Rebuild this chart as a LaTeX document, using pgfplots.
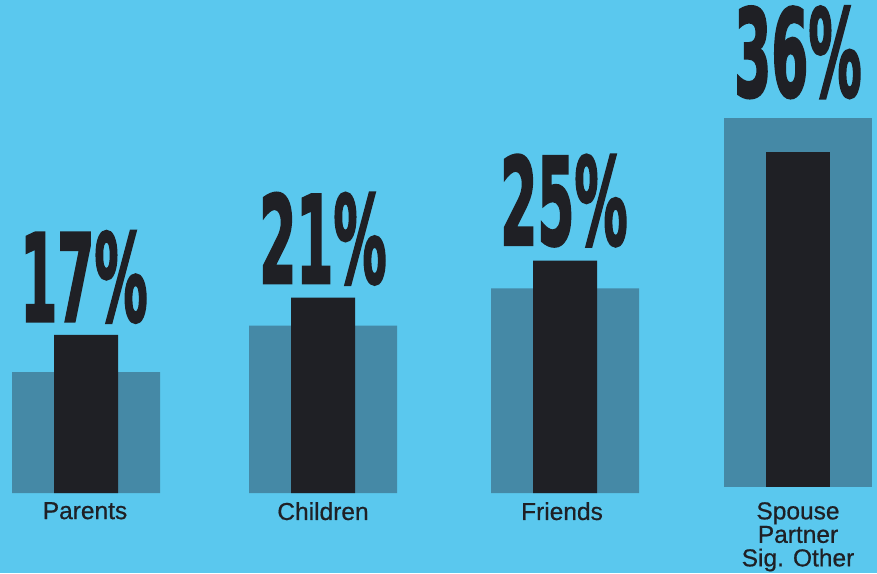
\documentclass[border=0pt]{standalone}
\usepackage{pgfplots}
\pgfplotsset{compat=1.18}
\usepackage{fontspec}
\setmainfont{Liberation Sans}
\newfontfamily\numfont{DejaVu Sans Bold}[FakeBold=2.5]
\newfontfamily\catfont{Liberation Sans}[FakeBold=0.6]
\definecolor{bgblue}{HTML}{5AC8EE}
\definecolor{widebar}{HTML}{4589A6}
\definecolor{darkbar}{HTML}{1F2025}
\newcommand{\pct}[1]{\scalebox{0.44}[1]{\numfont\fontsize{121}{121}\selectfont #1}}
\begin{document}
\begin{tikzpicture}[x=1pt,y=1pt]
\fill[bgblue] (0,0) rectangle (877,573);
\useasboundingbox (0,0) rectangle (877,573);
\pgfplotsset{base/.style={x=1pt, y=9.3pt, xmin=0, xmax=877, ymin=0, ymax=53,
  anchor=origin, clip=false, axis line style={draw=none}, major tick length=0pt,
  ytick=\empty}}
\begin{axis}[base, at={(0,86)}, xtick={85,323,562,798},
  xticklabels={Parents,Children,Friends,{Spouse\\Partner\\Sig. Other}},
  xticklabel style={align=center, font=\catfont\fontsize{24.5}{23.5}\selectfont, text=darkbar, inner sep=0pt, anchor=north, yshift=-9pt}]
\addplot[ybar, fill=widebar, draw=none, bar width=148] coordinates {(86,13) (323,18) (565,22)};
\addplot[ybar, fill=darkbar, draw=none, bar width=64] coordinates {(86,17) (323,21) (565,25)};
\node[anchor=south, inner sep=0pt, text=darkbar, yshift=12pt] at (axis cs:84,17) {\pct{17\%}};
\node[anchor=south, inner sep=0pt, text=darkbar, yshift=13pt] at (axis cs:323,21) {\pct{21\%}};
\node[anchor=south, inner sep=0pt, text=darkbar, yshift=14pt] at (axis cs:564,25) {\pct{25\%}};
\end{axis}
\begin{axis}[base, at={(0,93)}, xtick=\empty]
\addplot[ybar, fill=widebar, draw=none, bar width=148] coordinates {(798,39.6)};
\addplot[ybar, fill=darkbar, draw=none, bar width=64] coordinates {(798,36)};
\node[anchor=south, inner sep=0pt, text=darkbar, yshift=20pt] at (axis cs:798,39.6) {\pct{36\%}};
\end{axis}
\end{tikzpicture}
\end{document}
